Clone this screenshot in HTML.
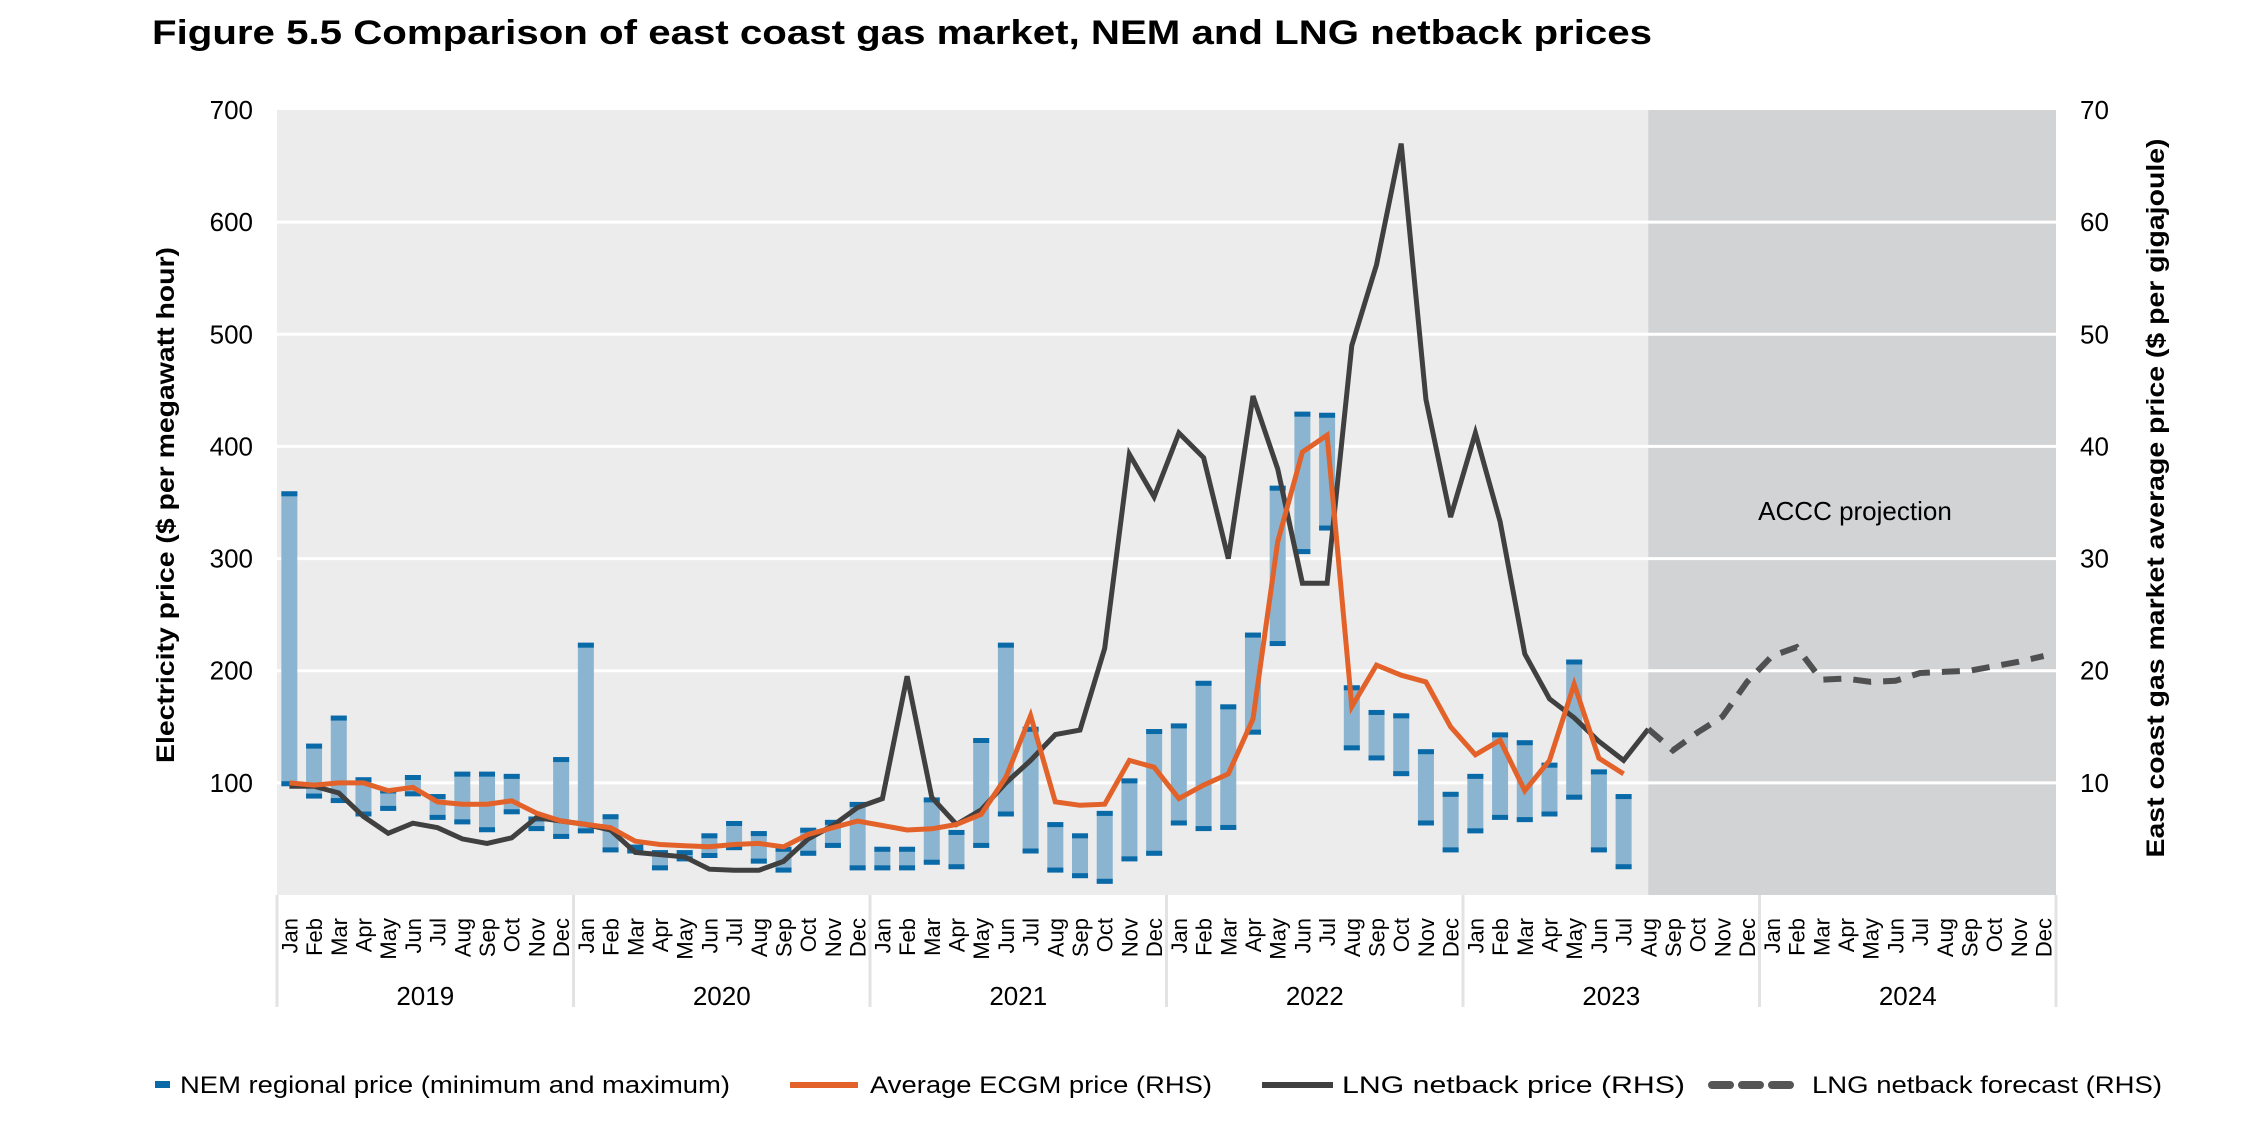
<!DOCTYPE html>
<html><head><meta charset="utf-8"><style>
html,body{margin:0;padding:0;background:#fff}
svg{display:block;font-family:"Liberation Sans",sans-serif}
</style></head><body>
<svg id="chart" width="2266" height="1126" viewBox="0 0 2266 1126" xmlns="http://www.w3.org/2000/svg">
<text x="152" y="44" font-size="34" font-weight="bold" textLength="1500" lengthAdjust="spacingAndGlyphs">Figure 5.5    Comparison of east coast gas market, NEM and LNG netback prices</text>
<g id="plot"></g>
<text transform="translate(174,505) rotate(-90)" text-anchor="middle" font-size="25" font-weight="bold" textLength="516" lengthAdjust="spacingAndGlyphs">Electricity price ($ per megawatt hour)</text>
<text transform="translate(2164,498) rotate(-90)" text-anchor="middle" font-size="25" font-weight="bold" textLength="719" lengthAdjust="spacingAndGlyphs">East coast gas market average price ($ per gigajoule)</text>
<g font-size="24">
  <g><rect x="155" y="1081" width="15" height="7" fill="#0a6aa8"/><text x="180" y="1093" textLength="550" lengthAdjust="spacingAndGlyphs">NEM regional price (minimum and maximum)</text></g>
  <g><line x1="790" y1="1085" x2="858" y2="1085" stroke="#e2622a" stroke-width="6"/><text x="870" y="1093" textLength="342" lengthAdjust="spacingAndGlyphs">Average ECGM price (RHS)</text></g>
  <g><line x1="1262" y1="1085" x2="1333" y2="1085" stroke="#404040" stroke-width="6"/><text x="1342" y="1093" textLength="343" lengthAdjust="spacingAndGlyphs">LNG netback price (RHS)</text></g>
  <g><line x1="1712" y1="1085" x2="1801" y2="1085" stroke="#555" stroke-width="8" stroke-dasharray="18,12" stroke-linecap="round"/><text x="1812" y="1093" textLength="350" lengthAdjust="spacingAndGlyphs">LNG netback forecast (RHS)</text></g>
</g>
</svg>
<script>
const months=["Jan","Feb","Mar","Apr","May","Jun","Jul","Aug","Sep","Oct","Nov","Dec"];
const years=["2019","2020","2021","2022","2023","2024"];
const leftTicks=[100,200,300,400,500,600,700];
const rightTicks=[10,20,30,40,50,60,70];
const nemMax=[360,135,160,105,95,107,90,110,110,108,70,123, 225,72,45,40,40,55,66,57,43,60,67,83, 43,43,87,58,140,225,150,65,55,75,104,148, 153,191,170,234,365,431,430,187,165,162,130,92, 108,145,138,118,210,112,90];
const nemMin=[97,86,82,70,75,88,67,63,56,72,57,50, 55,38,37,22,30,33,40,28,20,35,42,22, 22,22,27,23,42,70,37,20,15,10,30,35, 62,57,58,143,222,304,325,129,120,106,62,38, 55,67,65,70,85,38,23];
const ecgm=[10.0,9.8,10.0,10.0,9.3,9.6,8.3,8.1,8.1,8.4,7.3,6.6, 6.3,6.0,4.8,4.5,4.4,4.3,4.5,4.6,4.3,5.4,6.0,6.6, 6.2,5.8,5.9,6.3,7.2,10.5,16.0,8.3,8.0,8.1,12.0,11.4, 8.6,9.8,10.8,15.7,31.5,39.5,41.0,16.8,20.5,19.6,19.0,15.0, 12.5,13.8,9.3,12.0,18.8,12.2,10.8];
const lng=[9.7,9.7,9.1,7.0,5.5,6.4,6.0,5.0,4.6,5.1,6.9,6.6, 6.3,5.8,3.8,3.6,3.4,2.3,2.2,2.2,3.0,5.0,6.2,7.8, 8.6,19.5,8.7,6.3,7.6,10.0,12.0,14.3,14.7,22.0,39.3,35.5, 41.2,39.0,30.0,44.5,38.0,27.8,27.8,49.0,56.2,67.0,44.2,33.7, 41.2,33.3,21.5,17.5,15.8,13.7,12.0,14.8];
const forecastStart=55;
const lngForecast=[14.8,12.9,14.5,15.9,19.0,21.3,22.1,19.2,19.3,19.0,19.1,19.8,19.9,20.0,20.4,20.8,21.3];

const NS="http://www.w3.org/2000/svg";
const L=277,R=2056,T=110,B=895,N=72;
const bw=(R-L)/N;
const x=i=>L+(i+0.5)*bw;
const yL=v=>B-(v/700)*(B-T);
const yR=v=>B-(v/70)*(B-T);
const plot=document.getElementById('plot');
function mk(tag,attrs,parent){const e=document.createElementNS(NS,tag);for(const k in attrs)e.setAttribute(k,attrs[k]);(parent||plot).appendChild(e);return e;}

let e=mk('rect',{x:L,y:T,width:R-L,height:B-T,fill:'#ececec'});


const px=x(forecastStart);
e=mk('rect',{x:px,y:T,width:R-px,height:B-T,fill:'#d2d3d5'});


leftTicks.forEach((v,i)=>{
  if(v<700){e=mk('line',{x1:L,x2:R,y1:yL(v),y2:yL(v),stroke:'#fff','stroke-width':3});
  
  }
  e=mk('text',{x:253,y:yL(v)+9,'text-anchor':'end','font-size':26});e.textContent=v;
  
  
});
rightTicks.forEach(v=>{
  e=mk('text',{x:2080,y:yR(v)+9,'font-size':26});e.textContent=v;
  
  
});
e=mk('text',{x:1855,y:520,'text-anchor':'middle','font-size':26});e.textContent='ACCC projection';



nemMax.forEach((mx,i)=>{
  const mn=nemMin[i],cx=x(i),w=16;
  const g=mk('g',{});
  
  
  mk('rect',{x:cx-w/2,y:yL(mx),width:w,height:yL(mn)-yL(mx),fill:'#8ab4d0'},g);
  mk('rect',{x:cx-w/2,y:yL(mx),width:w,height:5,fill:'#0a6aa8'},g);
  mk('rect',{x:cx-w/2,y:yL(mn)-5,width:w,height:5,fill:'#0a6aa8'},g);
});
function pts(arr,off){return arr.map((v,i)=>x(i+off).toFixed(1)+','+yR(v).toFixed(1)).join(' ');}
e=mk('polyline',{points:pts(lng,0),fill:'none',stroke:'#404040','stroke-width':5,'stroke-linejoin':'miter'});


e=mk('polyline',{points:pts(lngForecast,forecastStart),fill:'none',stroke:'#505050','stroke-width':6,'stroke-dasharray':'18,12'});


e=mk('polyline',{points:pts(ecgm,0),fill:'none',stroke:'#e2622a','stroke-width':5});



for(let yi=0;yi<=6;yi++){
  const xx=L+yi*12*bw;
  e=mk('line',{x1:xx,x2:xx,y1:B,y2:1007,stroke:'#e3e3e3','stroke-width':3});
  
  
}
years.forEach((yr,yi)=>{
  e=mk('text',{x:L+(yi*12+6)*bw,y:1005,'text-anchor':'middle','font-size':26});e.textContent=yr;
  
  
  months.forEach((m,mi)=>{
    const cx=x(yi*12+mi)+8;
    e=mk('text',{transform:`translate(${cx.toFixed(1)},918) rotate(-90)`,'text-anchor':'end','font-size':22});e.textContent=m;
    
    
  });
});
</script>
</body></html>
